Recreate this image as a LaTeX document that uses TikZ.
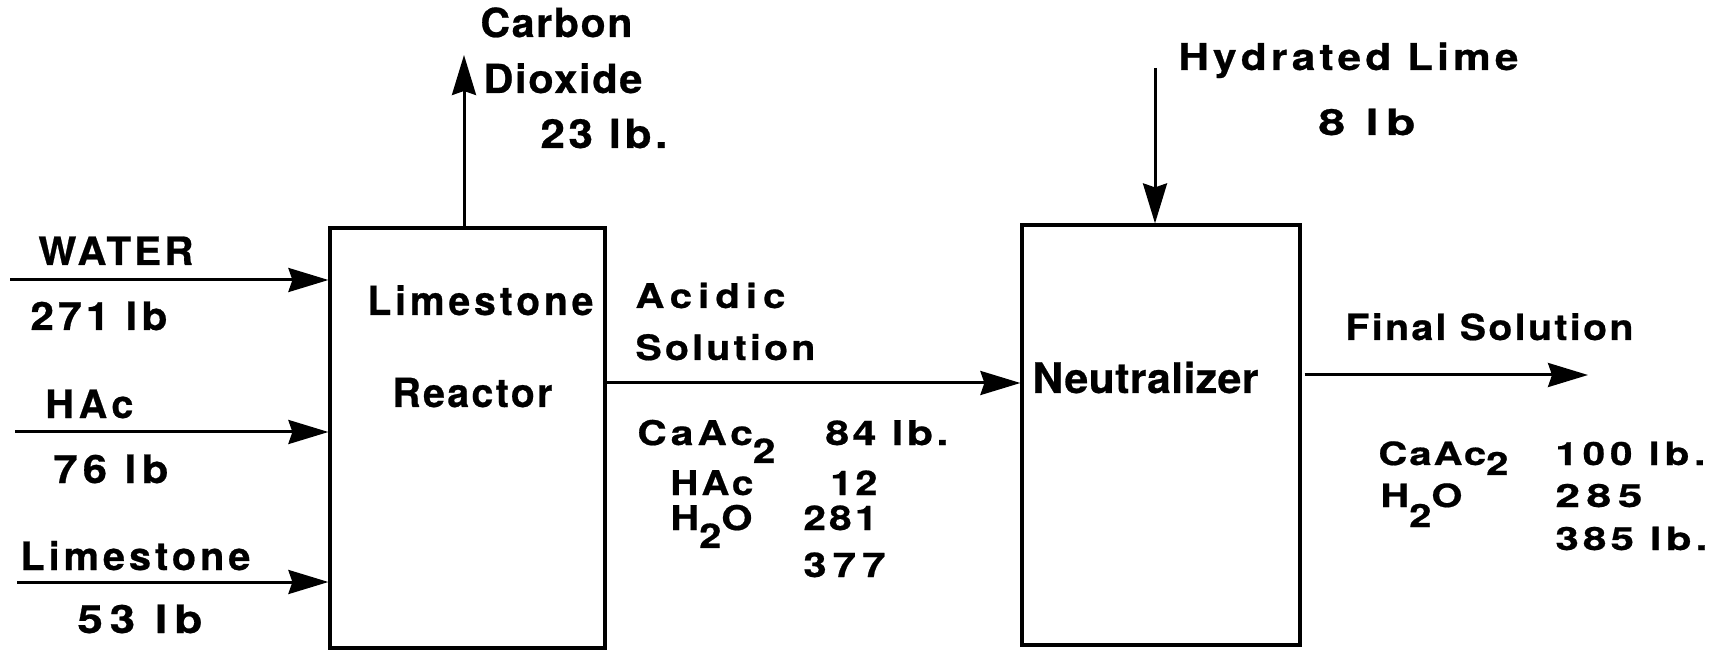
\documentclass[tikz,border=0pt]{standalone}
\usepackage{fontspec}
\usepackage{graphicx}
\setmainfont{TeX Gyre Heros}
\usetikzlibrary{arrows.meta}
\newcommand\T[4]{{\fontsize{#1}{#1}\selectfont\bfseries\resizebox{#2pt}{\height}{\addfontfeatures{LetterSpace=#3,FakeBold=0.6}#4}}}
\tikzset{
  txt/.style={inner sep=0pt, anchor=base west},
  unit/.style={draw, line width=1.6pt, inner sep=0pt},
  flow/.style={line width=1.5pt, -{Stealth[length=20pt,width=12pt,inset=2pt]}},
}
\begin{document}
\begin{tikzpicture}[x=0.5pt,y=-0.5pt]
\useasboundingbox (0,0) rectangle (1732,651);
% units
\node[unit, minimum width=137.5pt, minimum height=210pt] (reactor) at (467.5,438) {};
\node[unit, minimum width=139pt, minimum height=210pt] (neut) at (1161,435) {};
% coordinates for free ends
\coordinate (w0) at (10,280);
\coordinate (h0) at (15,432);
\coordinate (l0) at (17,582);
\coordinate (co2) at (464,55);
\coordinate (acid) at (700,383);
\coordinate (hl) at (1155,68);
\coordinate (fs) at (1588,375);
% connectors
\draw[flow] (w0) -- (w0 -| reactor.west);
\draw[flow] (h0) -- (h0 -| reactor.west);
\draw[flow] (l0) -- (l0 -| reactor.west);
\draw[flow] (co2 |- reactor.north) -- (co2);
\draw[flow] (reactor.east |- acid) -- (neut.west |- acid);
\draw[flow] (hl) -- (hl |- neut.north);
\draw[flow] ([xshift=1.5pt]neut.east |- fs) -- (fs);
% left labels
\node[txt] (tw) at (38,265) {\T{19.5}{77.5}{8}{WATER}};
\node[txt] (tw2) at (30,330) {\T{19.5}{68.5}{10}{271 lb}};
\node[txt] (th) at (45,418) {\T{19.5}{44}{12}{HAc}};
\node[txt] (th2) at (53,483) {\T{19.5}{57.5}{12}{76 lb}};
\node[txt] (tl) at (20,570) {\T{19.5}{115}{10}{Limestone}};
\node[txt] (tl2) at (77,633) {\T{19.5}{62.5}{15}{53 lb}};
% carbon dioxide
\node[txt] (tc1) at (480,37) {\T{20}{76}{4}{Carbon}};
\node[txt] (tc2) at (483,93) {\T{20}{79.5}{4}{Dioxide}};
\node[txt] (tc3) at (540,148) {\T{20}{63.5}{8}{23 lb.}};
% reactor text
\node[txt] (tr1) at (367,315) {\T{20}{113}{10}{Limestone}};
\node[txt] (tr2) at (392,407) {\T{20}{80}{6}{Reactor}};
% acidic solution
\node[txt] (ta1) at (635,308) {\T{17}{75}{15}{Acidic}};
\node[txt] (ta2) at (635,360) {\T{17.5}{90}{8}{Solution}};
\node[txt] (ta3) at (637,445) {\T{17}{69}{10}{CaAc\raisebox{-9pt}{2}}};
\node[txt] (ta4) at (825,445) {\T{17}{61.5}{8}{84 lb.}};
\node[txt] (ta5) at (670,495) {\T{17}{41.5}{8}{HAc}};
\node[txt] (ta6) at (830,495) {\T{17}{23.5}{8}{12}};
\node[txt] (ta7) at (670,530) {\T{17}{41}{5}{H\raisebox{-9pt}{2}O}};
\node[txt] (ta8) at (803,530) {\T{17}{37}{8}{281}};
\node[txt] (ta9) at (803,577) {\T{17}{41}{15}{377}};
% hydrated lime
\node[txt] (thl1) at (1178,70) {\T{18.5}{170}{10}{Hydrated Lime}};
\node[txt] (thl2) at (1318,135) {\T{18}{48.5}{15}{8 lb}};
% neutralizer
\node[txt] (tn) at (1032,393) {\T{21}{113}{1}{Neutralizer}};
% final solution
\node[txt] (tf1) at (1345,340) {\T{18}{144}{6}{Final Solution}};
\node[txt] (tf2) at (1378,465) {\T{16}{65}{5}{CaAc\raisebox{-5pt}{2}}};
\node[txt] (tf3) at (1555,465) {\T{16}{75}{12}{100 lb.}};
\node[txt] (tf4) at (1380,507) {\T{16}{41}{3}{H\raisebox{-10pt}{2}O}};
\node[txt] (tf5) at (1555,507) {\T{16}{43.5}{15}{285}};
\node[txt] (tf6) at (1555,550) {\T{16}{76}{10}{385 lb.}};
\end{tikzpicture}
\end{document}
